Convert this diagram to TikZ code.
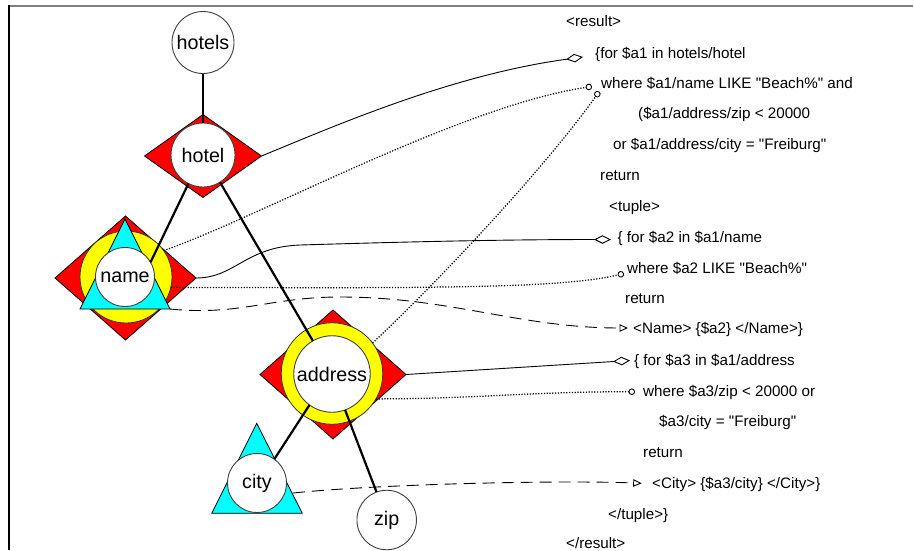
\documentclass[tikz,border=0pt]{standalone}
\usepackage{fontspec}
\setmainfont{Liberation Sans}[Ligatures=TeXOff]
\usetikzlibrary{arrows.meta,shapes.geometric}
\definecolor{dred}{RGB}{255,0,0}
\definecolor{dyellow}{RGB}{255,255,0}
\definecolor{dcyan}{RGB}{0,255,255}
\begin{document}
\begin{tikzpicture}[x=1pt,y=-1pt,
  dia/.style={diamond,draw=black,line width=0.8pt,fill=dred,inner sep=0pt,outer sep=0pt},
  ring/.style={circle,draw=black!80,line width=0.8pt,fill=dyellow,inner sep=0pt,outer sep=0pt},
  circ/.style={circle,draw=black!75,line width=0.9pt,fill=white,inner sep=0pt,outer sep=0pt,font=\fontsize{19.7}{22}\selectfont},
  tri/.style={draw=black,line width=0.8pt,fill=dcyan},
  treeedge/.style={line width=2.2pt,black},
  txt/.style={anchor=base west,inner sep=0pt,font=\fontsize{15.2}{17}\selectfont},
  conn/.style={line width=0.9pt},
  dotline/.style={line width=1.25pt,dash pattern=on 1.2pt off 1.6pt},
  dashline/.style={conn,dash pattern=on 12pt off 7pt},
  diatip/.style={-{Diamond[open,length=17pt,width=8.5pt]}},
  circtip/.style={-{Circle[open,length=6.5pt,line width=0.9pt]}},
  tritip/.style={-{Triangle[open,length=8.5pt,width=7.5pt]}}]

\useasboundingbox (0,0) rectangle (914,550);
\fill[white] (0,0) rectangle (914,550);

% frame
\draw[line width=2pt,black!50] (8,5.5) -- (913,5.5);
\draw[line width=2pt,black] (8.5,5) -- (8.5,550);

% decorations
\node[dia,minimum width=117pt,minimum height=83pt] (hoteld) at (203,156) {};

\node[dia,minimum width=141pt,minimum height=124pt] (named) at (125.5,278) {};
\node[ring,minimum size=92pt] (namer) at (126,277) {};
\filldraw[tri] (125,219) -- (170,309) -- (80,309) -- cycle;
\coordinate (ntri) at (170,309);

\node[dia,minimum width=146pt,minimum height=129pt] (addrd) at (333,374.5) {};
\node[ring,minimum size=101.5pt] (addrr) at (332,373.5) {};

\filldraw[tri] (256.7,423.3) -- (302.3,513.3) -- (211.7,513.3) -- cycle;
\coordinate (ctri) at (293,493);

% element circles
\node[circ,minimum size=62pt] (hotels) at (203,42.5) {hotels};
\node[circ,minimum size=64pt] (hotel) at (203,155) {hotel};
\node[circ,minimum size=59pt] (name) at (125,277) {name};
\node[circ,minimum size=76.5pt] (address) at (332,374) {address};
\node[circ,minimum size=59pt] (city) at (257,483) {city};
\node[circ,minimum size=59.5pt] (zip) at (386.7,520) {zip};

% tree edges
\draw[treeedge] (hotels.south) -- (hotel.north);
\draw[treeedge] (hotel.243) -- (name.30);
\draw[treeedge] (hotel.302) -- (address.120);
\draw[treeedge] (address.234) -- (city.54);
\draw[treeedge] (address.290) -- (zip.110);

% query text
\node[txt] (l1)  at (566,26.3)  {<result>};
\node[txt] (l2)  at (595,58.6)  {\{for \$a1 in hotels/hotel};
\node[txt] (l3)  at (601,88.3)  {where \$a1/name LIKE "Beach\%" and};
\node[txt] (l4)  at (638,118.8) {(\$a1/address/zip < 20000};
\node[txt] (l5)  at (613,149.3) {or \$a1/address/city = "Freiburg"};
\node[txt] (l6)  at (600,180.3) {return};
\node[txt] (l7)  at (609,211.3) {<tuple>};
\node[txt] (l8)  at (617.5,242.8) {\{ for \$a2 in \$a1/name};
\node[txt] (l9)  at (627,273.3) {where \$a2 LIKE "Beach\%"};
\node[txt] (l10) at (625,303.3) {return};
\node[txt] (l11) at (633,333.8) {<Name> \{\$a2\} </Name>\}};
\node[txt] (l12) at (634,365.3) {\{ for \$a3 in \$a1/address};
\node[txt] (l13) at (643,396.3) {where \$a3/zip < 20000 or};
\node[txt] (l14) at (659,426.8) {\$a3/city = "Freiburg"};
\node[txt] (l15) at (643,457.8) {return};
\node[txt] (l16) at (652,488.3) {<City> \{\$a3/city\} </City>\}};
\node[txt] (l17) at (608,519.3) {</tuple>\}};
\node[txt] (l18) at (566,548.5) {</result>};

% connector ends
\coordinate (m1) at (583,57);
\coordinate (m2) at (592,86.5);
\coordinate (m3) at (599.2,91.5);
\coordinate (m4) at (611,239.5);
\coordinate (m5) at (624,273.5);
\coordinate (m6) at (628,328);
\coordinate (m7) at (630,360.5);
\coordinate (m8) at (635,391.7);
\coordinate (m9) at (641.7,483.3);

% connectors
\draw[conn,diatip] (hoteld.east) .. controls (330,128) and (450,75) .. (m1);
\draw[dotline,circtip] (namer.35) .. controls (264,215) and (461,106) .. (m2);
\draw[dotline,circtip] (addrr.37) .. controls (435,285) and (545,168) .. (m3);
\draw[conn,diatip] (named.east) .. controls (235,278) and (245,247) .. (300,245)
   .. controls (400,242) and (500,239.5) .. (m4);
\draw[dotline,circtip] (namer.-13) .. controls (420,288) and (560,289) .. (m5);
\draw[dashline,tritip] (ntri) .. controls (240,316) and (270,297) .. (340,297)
   .. controls (450,297) and (520,328) .. (m6);
\draw[conn,diatip] (addrd.east) -- (m7);
\draw[dotline,circtip] (addrr.-30) .. controls (470,399) and (530,391.7) .. (m8);
\draw[dashline,tritip] (ctri) .. controls (380,484) and (560,480) .. (m9);
\end{tikzpicture}
\end{document}
